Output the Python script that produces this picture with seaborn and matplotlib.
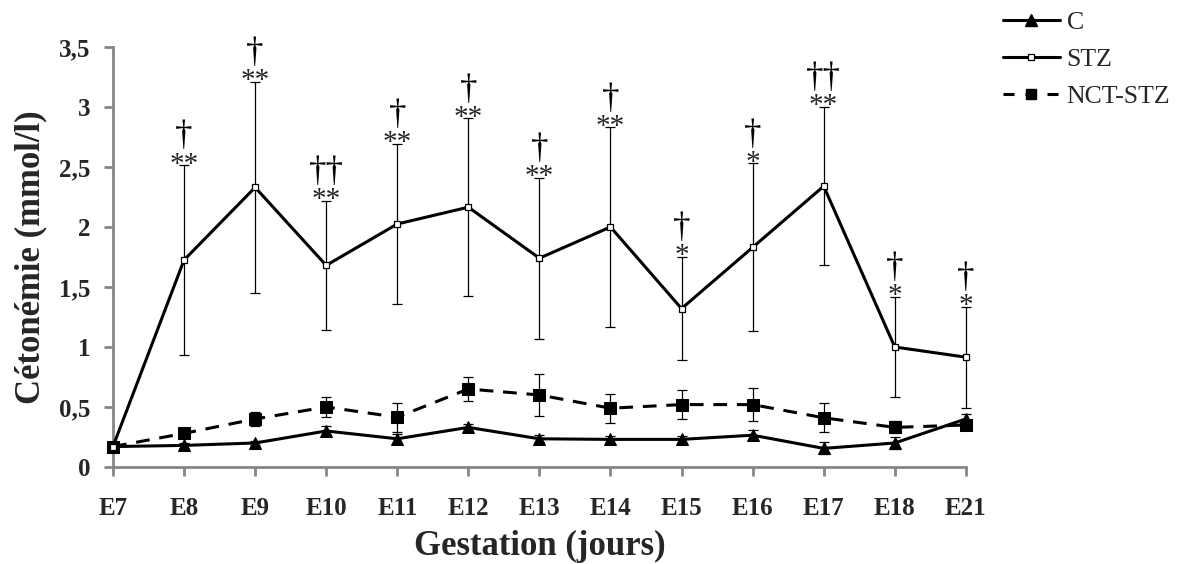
import numpy as np
import pandas as pd
import matplotlib
matplotlib.use("Agg")
import matplotlib.pyplot as plt
import seaborn as sns
from matplotlib.lines import Line2D

days = ["E7", "E8", "E9", "E10", "E11", "E12", "E13", "E14", "E15", "E16", "E17", "E18", "E21"]

c_mean = [0.17, 0.18, 0.20, 0.30, 0.235, 0.33, 0.235, 0.23, 0.23, 0.265, 0.155, 0.20, 0.40]
c_err = [0.0, 0.02, 0.02, 0.04, 0.04, 0.03, 0.03, 0.03, 0.03, 0.04, 0.05, 0.05, 0.04]

stz_mean = [0.17, 1.725, 2.33, 1.68, 2.025, 2.165, 1.74, 2.0, 1.32, 1.83, 2.34, 1.0, 0.915]
stz_err = [0.0, 0.79, 0.88, 0.54, 0.67, 0.74, 0.67, 0.83, 0.43, 0.70, 0.66, 0.42, 0.42]

nct_mean = [0.17, 0.28, 0.40, 0.50, 0.415, 0.65, 0.60, 0.49, 0.52, 0.52, 0.41, 0.33, 0.35]
nct_err = [0.0, 0.02, 0.06, 0.085, 0.12, 0.10, 0.175, 0.12, 0.12, 0.14, 0.12, 0.05, 0.03]

stars = ["", "**", "**", "**", "**", "**", "**", "**", "*", "*", "**", "*", "*"]
daggers = ["", "†", "†", "††", "†", "†", "†", "†", "†", "†", "††", "†", "†"]

yticks = [0, 0.5, 1, 1.5, 2, 2.5, 3, 3.5]
ytick_labels = ["0", "0,5", "1", "1,5", "2", "2,5", "3", "3,5"]

sns.set_theme(style="white")
plt.rcParams["font.family"] = ["Liberation Serif", "DejaVu Serif"]

pos = np.arange(len(days))
df = pd.DataFrame({
    "pos": np.tile(pos, 3),
    "value": c_mean + stz_mean + nct_mean,
    "group": ["C"] * len(days) + ["STZ"] * len(days) + ["NCT-STZ"] * len(days),
})

fig = plt.figure(figsize=(11.88, 5.64), dpi=100)
ax = fig.add_axes([0.0951, 0.172, 0.813 - 0.0951, 0.9167 - 0.172])

grey = "#868686"
lw = 2.2
dash = (0, (4.5, 3.2))

ekw = dict(fmt="none", ecolor="black", elinewidth=0.9, capsize=3.3, capthick=0.9, zorder=2)
for m, e in [(stz_mean, stz_err), (nct_mean, nct_err), (c_mean, c_err)]:
    cont = ax.errorbar(pos, m, yerr=e, **ekw)
    for child in cont.get_children():
        child.set_clip_on(False)

sns.lineplot(data=df[df.group == "NCT-STZ"], x="pos", y="value", ax=ax, color="black",
             lw=lw, linestyle=dash, marker="s", markersize=8.5, markerfacecolor="black",
             markeredgecolor="black", legend=False, zorder=3, clip_on=False)
sns.lineplot(data=df[df.group == "C"], x="pos", y="value", ax=ax, color="black",
             lw=lw, marker="^", markersize=8, markerfacecolor="black", markeredgecolor="black",
             legend=False, zorder=4, clip_on=False)
sns.lineplot(data=df[df.group == "STZ"], x="pos", y="value", ax=ax, color="black",
             lw=lw, marker="s", markersize=4.2, markerfacecolor="white", markeredgecolor="black",
             markeredgewidth=0.9, legend=False, zorder=5, clip_on=False)

# significance annotations
for i in range(len(days)):
    if not stars[i]:
        continue
    top = stz_mean[i] + stz_err[i]
    ax.annotate(stars[i], xy=(pos[i], top), xytext=(0, -9), textcoords="offset points",
                ha="center", va="bottom", fontsize=21, color="#222222")
    ax.annotate(daggers[i], xy=(pos[i], top), xytext=(0, 8.5), textcoords="offset points",
                ha="center", va="bottom", fontsize=25, color="black")

ax.set_xlim(0, len(days) - 1)
ax.set_ylim(0, 3.5)
ax.set_xticks(pos)
ax.set_xticklabels(days, fontsize=18, fontweight="bold")
ax.set_yticks(yticks)
ax.set_yticklabels(ytick_labels, fontsize=18, fontweight="bold")

for s in ["top", "right"]:
    ax.spines[s].set_visible(False)
for s in ["left", "bottom"]:
    ax.spines[s].set_color(grey)
    ax.spines[s].set_linewidth(2.0)
ax.tick_params(axis="both", which="major", direction="out", length=6.5, width=2.0, color=grey,
               bottom=True, left=True)
ax.tick_params(axis="x", pad=15)
ax.tick_params(axis="y", pad=10)

ax.set_xlabel("Gestation (jours)", fontsize=25, fontweight="bold", labelpad=7)
ax.set_ylabel("Cétonémie (mmol/l)", fontsize=25, fontweight="bold", labelpad=8)

handles = [
    Line2D([0], [0], color="black", lw=lw, marker="^", markersize=8, markerfacecolor="black"),
    Line2D([0], [0], color="black", lw=lw, marker="s", markersize=4.2, markerfacecolor="white",
           markeredgewidth=0.9),
    Line2D([0], [0], color="black", lw=lw, linestyle=(0, (3.6, 3.6)), marker="s", markersize=7.5,
           markerfacecolor="black"),
]
fig.legend(handles, ["C", "STZ", "NCT-STZ"], loc="upper left",
           bbox_to_anchor=(1003 / 1188, 1 - 11 / 564),
           frameon=False, fontsize=18.5, handlelength=2.2, handletextpad=0.28, labelspacing=0.55,
           borderaxespad=0.0, borderpad=0.0)

fig.savefig("out.png", dpi=100)
